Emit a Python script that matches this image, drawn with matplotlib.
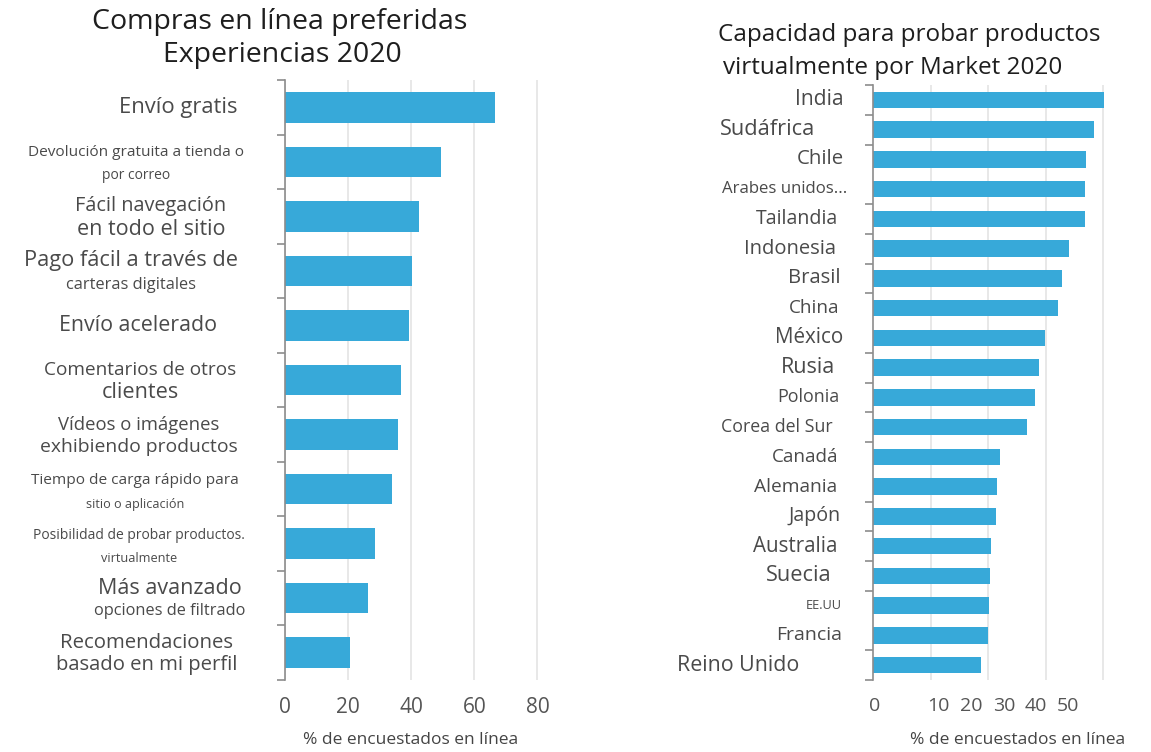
import numpy as np
import matplotlib.pyplot as plt
import matplotlib.transforms as mtransforms

plt.rcParams['font.family'] = ['Open Sans', 'DejaVu Sans']

# Experiencias de compra preferidas (% de encuestados)
experiencias = [
    'Envío gratis',
    'Devolución gratuita a tienda o por correo',
    'Fácil navegación en todo el sitio',
    'Pago fácil a través de carteras digitales',
    'Envío acelerado',
    'Comentarios de otros clientes',
    'Vídeos o imágenes exhibiendo productos',
    'Tiempo de carga rápido para sitio o aplicación',
    'Posibilidad de probar productos. virtualmente',
    'Más avanzado opciones de filtrado',
    'Recomendaciones basado en mi perfil',
]
exp_valores = [66.7, 49.4, 42.5, 40.2, 39.2, 36.8, 35.9, 34.0, 28.5, 26.4, 20.5]

# Capacidad para probar productos virtualmente por mercado
mercados = ['India', 'Sudáfrica', 'Chile', 'Arabes unidos...', 'Tailandia',
            'Indonesia', 'Brasil', 'China', 'México', 'Rusia', 'Polonia',
            'Corea del Sur', 'Canadá', 'Alemania', 'Japón', 'Australia',
            'Suecia', 'EE.UU', 'Francia', 'Reino Unido']
merc_valores = [40.2, 38.5, 37.0, 36.9, 36.8, 34.0, 32.9, 32.2, 29.9, 28.9,
                28.2, 26.8, 22.1, 21.6, 21.3, 20.5, 20.3, 20.2, 20.0, 18.8]

izq_ticks = [0, 20, 40, 60, 80]
der_ticklabels = ['0', '10', '20', '30', '40', '50']

# estilo
AZUL = '#37a9d9'
GRIS_TXT = '#4a4a4a'
GRID = '#e4e4e4'

# líneas de etiqueta: (texto, tamaño, desplazamiento vertical en px), centro x en px
etiquetas_izq = [
    ([('Envío gratis', 15.8, 0)], 178),
    ([('Devolución gratuita a tienda o', 11.1, -9), ('por correo', 10, 14)], 136),
    ([('Fácil navegación', 14.3, -10), ('en todo el sitio', 15.5, 13)], 151),
    ([('Pago fácil a través de', 15.7, -10), ('carteras digitales', 11.8, 14)], 131),
    ([('Envío acelerado', 15.4, 0)], 138),
    ([('Comentarios de otros', 13.7, -10), ('clientes', 15.6, 12)], 140),
    ([('Vídeos o imágenes', 13.3, -10), ('exhibiendo productos', 13.9, 12)], 139),
    ([('Tiempo de carga rápido para', 11.1, -9), ('sitio o aplicación', 9.1, 15)], 135),
    ([('Posibilidad de probar productos.', 10, -8), ('virtualmente', 9.2, 15)], 139),
    ([('Más avanzado', 15.5, -10), ('opciones de filtrado', 11.8, 13)], 170),
    ([('Recomendaciones', 14.7, -10), ('basado en mi perfil', 14.6, 12)], 147),
]
tam_der = [15.1, 15.7, 14.7, 12.1, 14.1, 14.5, 14.6, 13.6, 14.9, 15.5, 12.9,
           12.8, 13.6, 13.8, 14.1, 14.8, 15.7, 9.2, 14.0, 15.4]
der_cx = [819, 768, 820, 785, 797, 790, 814, 814, 809, 808, 808,
          777, 805, 796, 815, 795, 799, 824, 809, 738]

W, H = 1151, 752
fig = plt.figure(figsize=(W / 100, H / 100), dpi=100)
fig.patch.set_facecolor('white')


def estilo_ejes(ax):
    for s in ['top', 'right', 'bottom']:
        ax.spines[s].set_visible(False)
    ax.spines['left'].set_color('#8c8c8c')
    ax.spines['left'].set_linewidth(1.2)
    ax.tick_params(axis='y', which='both', length=0, labelleft=False)
    ax.tick_params(axis='y', which='minor', length=6, color='#8c8c8c', width=1.2)
    ax.tick_params(axis='x', length=0)
    ax.set_axisbelow(True)


# --- panel izquierdo ---
ax1 = fig.add_axes([285 / W, 1 - 680 / H, 265 / W, 600 / H])
y1 = np.arange(len(experiencias))
ax1.barh(y1, exp_valores, height=0.56, color=AZUL)
ax1.set_ylim(len(experiencias) - 0.5, -0.5)
ax1.set_xlim(0, 84)
ax1.set_xticks(izq_ticks)
ax1.set_xticklabels([str(t) for t in izq_ticks], fontsize=15, color='#555555')
ax1.grid(axis='x', color=GRID, linewidth=1.2)
ax1.set_yticks(np.arange(len(experiencias) + 1) - 0.5, minor=True)
estilo_ejes(ax1)
ax1.tick_params(axis='x', pad=12)

px_y1 = 600 / len(experiencias)
tr1 = mtransforms.blended_transform_factory(fig.transFigure, ax1.transData)
for i, (lineas, cx) in enumerate(etiquetas_izq):
    for txt, size, dy in lineas:
        ax1.text(cx / W, i + dy / px_y1, txt, transform=tr1, fontsize=size,
                 color=GRIS_TXT, ha='center', va='center')

fig.text(411 / W, 1 - 740 / H, '% de encuestados en línea', fontsize=12.5,
         color='#444444', ha='center', va='center')
fig.text(280 / W, 1 - 22 / H, 'Compras en línea preferidas', fontsize=20.5,
         color='#1e1e1e', ha='center', va='center')
fig.text(282 / W, 1 - 55 / H, 'Experiencias 2020', fontsize=20.5,
         color='#1e1e1e', ha='center', va='center')

# --- panel derecho ---
ax2 = fig.add_axes([873 / W, 1 - 680 / H, 245 / W, 595 / H])
y2 = np.arange(len(mercados))
ax2.barh(y2, merc_valores, height=0.56, color=AZUL)
ax2.set_ylim(len(mercados) - 0.5, -0.5)
ax2.set_xlim(0, 42.6)
ax2.set_xticks([10, 20, 30, 40], minor=True)
ax2.grid(axis='x', which='minor', color=GRID, linewidth=1.2)
ax2.tick_params(axis='x', which='minor', length=0)
# rótulos del eje x tal como aparecen, apretados a la derecha del cero
ax2.set_xticks([0.2, 11.4, 17.1, 22.8, 28.3, 33.9])
ax2.set_xticklabels(der_ticklabels, fontsize=14, color='#555555')
ax2.set_yticks(np.arange(len(mercados) + 1) - 0.5, minor=True)
estilo_ejes(ax2)
ax2.tick_params(axis='x', which='major', pad=12)

tr2 = mtransforms.blended_transform_factory(fig.transFigure, ax2.transData)
for i, (nombre, size, cx) in enumerate(zip(mercados, tam_der, der_cx)):
    ax2.text(cx / W, i, nombre, transform=tr2, fontsize=size, color=GRIS_TXT,
             ha='center', va='center')

fig.text(1018 / W, 1 - 740 / H, '% de encuestados en línea', fontsize=12.5,
         color='#444444', ha='center', va='center')
fig.text(909 / W, 1 - 35 / H, 'Capacidad para probar productos', fontsize=17.5,
         color='#1e1e1e', ha='center', va='center')
fig.text(893 / W, 1 - 68 / H, 'virtualmente por Market 2020', fontsize=17.5,
         color='#1e1e1e', ha='center', va='center')

fig.savefig('out.png', dpi=100)
